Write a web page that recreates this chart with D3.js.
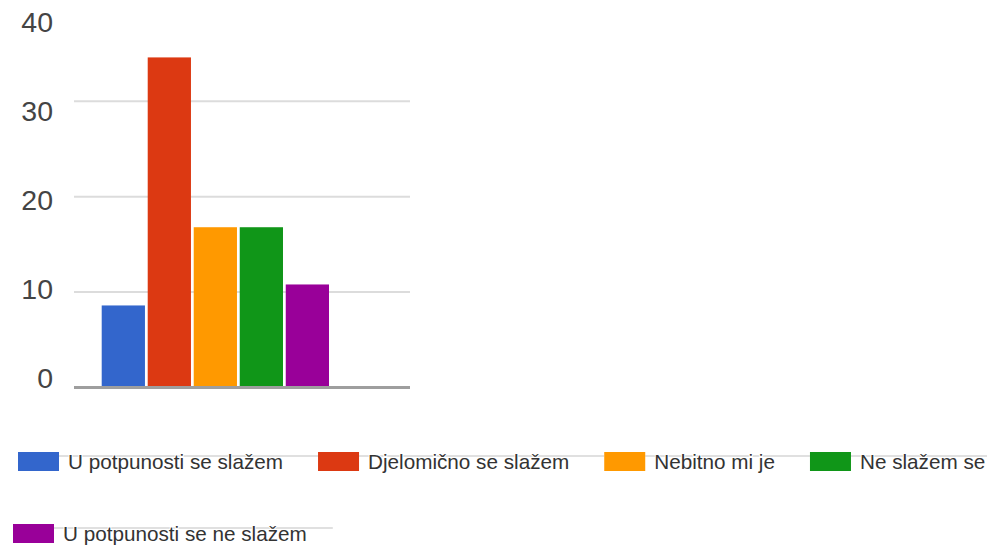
<!DOCTYPE html>
<html>
<head>
<meta charset="utf-8">
<script src="https://cdn.jsdelivr.net/npm/d3@7"></script>
<style>
  html, body { margin: 0; padding: 0; background: #fff; }
  svg { display: block; }
  text { font-family: Arial, "Liberation Sans", sans-serif; }
</style>
</head>
<body>
<svg id="chart" width="987" height="547"></svg>
<script>
// Survey answers and their counts
const categories = [
  "U potpunosti se slažem",
  "Djelomično se slažem",
  "Nebitno mi je",
  "Ne slažem se",
  "U potpunosti se ne slažem"
];
const values = [8.6, 34.6, 16.8, 16.8, 10.8];
const colors = ["#3366cc", "#dc3912", "#ff9900", "#109618", "#990099"];
const yTicks = [0, 10, 20, 30, 40];
const gridTicks = [10, 20, 30];

const svg = d3.select("#chart");

const plotLeft = 74, plotRight = 410;

const y = d3.scaleLinear().domain([0, 40]).range([387.5, 5.9]);
// tick labels sit on their own slightly tighter spacing
const yLabel = d3.scaleLinear().domain([0, 40]).range([378, 22]);

const x = d3.scaleBand()
  .domain(categories)
  .range([101.7, 329])
  .paddingInner(0.06)
  .paddingOuter(0);

// gridlines
svg.append("g")
  .selectAll("line")
  .data(gridTicks)
  .join("line")
  .attr("x1", plotLeft).attr("x2", plotRight)
  .attr("y1", d => y(d)).attr("y2", d => y(d))
  .attr("stroke", "#dcdcdc")
  .attr("stroke-width", 2);

// y-axis labels
svg.append("g")
  .selectAll("text")
  .data(yTicks)
  .join("text")
  .attr("x", 53)
  .attr("y", d => yLabel(d))
  .attr("dy", "0.36em")
  .attr("text-anchor", "end")
  .attr("font-size", 28.5)
  .attr("fill", "#444")
  .text(d => d);

// bars
svg.append("g")
  .selectAll("rect")
  .data(categories)
  .join("rect")
  .attr("x", d => x(d))
  .attr("width", x.bandwidth())
  .attr("y", (d, i) => y(values[i]))
  .attr("height", (d, i) => y(0) - y(values[i]))
  .attr("fill", (d, i) => colors[i]);

// baseline
svg.append("line")
  .attr("x1", plotLeft).attr("x2", plotRight)
  .attr("y1", y(0)).attr("y2", y(0))
  .attr("stroke", "#9e9e9e")
  .attr("stroke-width", 3);

// legend
const legend = svg.append("g");
const swW = 41, swH = 19, gapText = 9;
const rows = [
  { x0: 18, top: 452, trail: 35, items: [0, 1, 2, 3] },
  { x0: 13, top: 524, trail: 26, items: [4] }
];

rows.forEach(row => {
  let cx = row.x0;
  row.items.forEach(idx => {
    const g = legend.append("g");
    const lineEl = g.append("line");
    const t = g.append("text")
      .attr("x", cx + swW + gapText)
      .attr("y", row.top + 17)
      .attr("font-size", 20.7)
      .attr("fill", "#333")
      .attr("stroke", "#fff")
      .attr("stroke-width", 2)
      .attr("paint-order", "stroke")
      .text(categories[idx]);
    const tw = t.node().getComputedTextLength();
    const end = cx + swW + gapText + tw + row.trail;
    lineEl
      .attr("x1", cx + swW).attr("x2", Math.min(end, 987))
      .attr("y1", row.top + 4).attr("y2", row.top + 4)
      .attr("stroke", "#d6d6d6")
      .attr("stroke-width", 1.5);
    g.append("rect")
      .attr("x", cx).attr("y", row.top)
      .attr("width", swW).attr("height", swH)
      .attr("fill", colors[idx]);
    t.raise();
    cx = end;
  });
});
</script>
</body>
</html>
